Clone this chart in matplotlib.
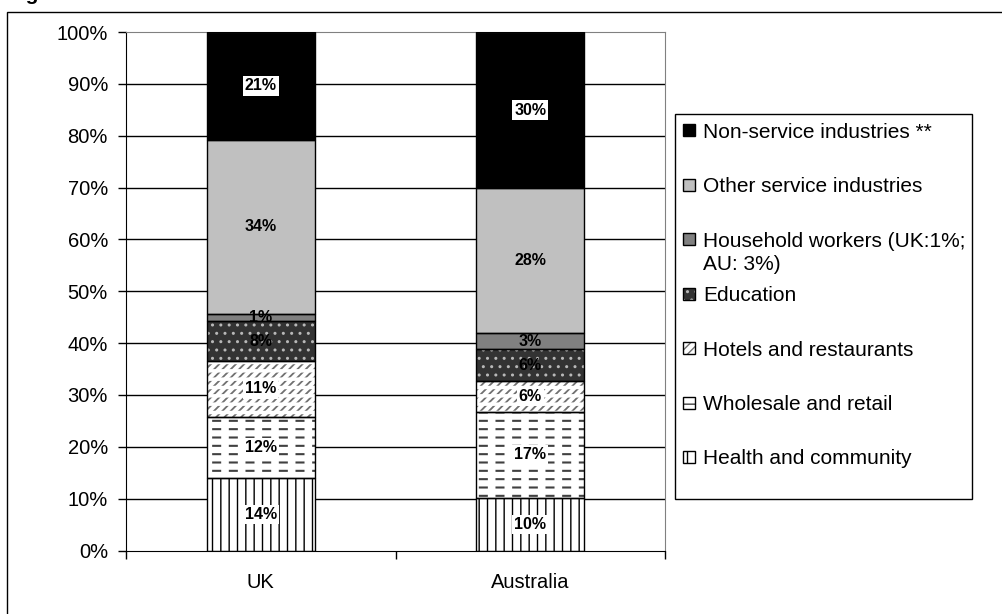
import numpy as np
import matplotlib
matplotlib.use("Agg")
import matplotlib.pyplot as plt
from matplotlib.patches import Rectangle

plt.rcParams['font.family'] = ['Liberation Sans', 'DejaVu Sans']
plt.rcParams['hatch.linewidth'] = 1.0

# employment shares (%) by industry, bottom of the stack first
countries = ["UK", "Australia"]
industries = ["Health and community", "Wholesale and retail", "Hotels and restaurants",
              "Education", "Household workers (UK:1%;\nAU: 3%)",
              "Other service industries", "Non-service industries **"]
uk_share = [13.9, 11.9, 10.7, 7.8, 1.3, 33.6, 20.8]
au_share = [10.1, 16.7, 5.8, 6.3, 3.0, 28.0, 30.1]

# fill, hatch, hatch colour and hatch width for each industry
face = ['white', 'white', 'white', '#333333', '#808080', '#c0c0c0', 'black']
hatches = ['||', '--', '////', '..', None, None, None]
hatch_col = ['black', '#404040', '#707070', '#b8b8b8', '#808080', '#c0c0c0', 'black']
hatch_lw = [1.0, 1.5, 1.3, 1.0, 1.0, 1.0, 1.0]
# thick white hatch laid over a pattern to break its lines into dashes
breaks = [None, '|', '--', None, None, None, None]
boxed = [True, True, True, False, False, False, True]

W, H = 1003, 614
fig = plt.figure(figsize=(W / 100, H / 100), dpi=100)

def px(x, y):
    return x / W, 1 - y / H

ax = fig.add_axes([126 / W, 1 - 550.5 / H, (665 - 126) / W, (550.5 - 32) / H])

x = np.arange(len(countries))
shares = np.array([uk_share, au_share])
bottom = np.zeros(len(countries))
for i, name in enumerate(industries):
    vals = shares[:, i]
    with plt.rc_context({'hatch.linewidth': hatch_lw[i]}):
        ax.bar(x, vals, 0.4, bottom=bottom, color=face[i], hatch=hatches[i],
               edgecolor=hatch_col[i], linewidth=0, zorder=2)
    if breaks[i]:
        with plt.rc_context({'hatch.linewidth': 5.5 if breaks[i] == '|' else 2.5}):
            ax.bar(x, vals, 0.4, bottom=bottom, fill=False, hatch=breaks[i],
                   edgecolor='white', linewidth=0, zorder=2.5)
    ax.bar(x, vals, 0.4, bottom=bottom, fill=False, edgecolor='black',
           linewidth=1, zorder=3)
    for xi, v, b in zip(x, vals, bottom):
        box = dict(facecolor='white', edgecolor='none', pad=1.5) if boxed[i] else None
        ax.text(xi, b + v / 2, f"{v:.0f}%", ha='center', va='center',
                fontsize=11.5, fontweight='bold', zorder=5, bbox=box)
    bottom += vals

ax.set_xlim(-0.5, 1.5)
ax.set_ylim(0, 100)
ax.set_yticks(np.arange(0, 101, 10))
ax.yaxis.set_major_formatter(lambda v, p: f"{v:.0f}%")
ax.set_xticks(x)
ax.set_xticklabels(countries)
ax.set_xticks([-0.5, 0.5, 1.5], minor=True)
ax.tick_params(axis='x', which='major', length=0, pad=16, labelsize=14.5)
ax.tick_params(axis='x', which='minor', length=6, width=1, direction='out')
ax.tick_params(axis='y', length=6, width=1, pad=7, labelsize=14.5)
for yv in range(10, 100, 10):
    ax.axhline(yv, color='black', lw=1, zorder=1)
for side in ['top', 'right']:
    ax.spines[side].set_color('#808080')
for side in ['left', 'bottom']:
    ax.spines[side].set_color('black')

# legend box, drawn by hand so entries sit on an even pitch
fig.add_artist(Rectangle(px(675, 499), (972 - 675) / W, (499 - 114) / H,
                         transform=fig.transFigure, fill=False, edgecolor='black', lw=1))
for k, i in enumerate(reversed(range(len(industries)))):
    yc = 130 + 54.5 * k
    fig.add_artist(Rectangle(px(683, yc + 6), 12 / W, 12 / H, transform=fig.transFigure,
                             facecolor=face[i], hatch=hatches[i], edgecolor=hatch_col[i], lw=0))
    fig.add_artist(Rectangle(px(683, yc + 6), 12 / W, 12 / H, transform=fig.transFigure,
                             fill=False, edgecolor='black', lw=1))
    for j, line in enumerate(industries[i].split('\n')):
        fig.text(*px(703, yc + 7.5 + 24 * j), line, va='baseline', ha='left', fontsize=15)

# outer frame and the caption running off the top
fig.add_artist(Rectangle(px(7, 700), 2, (700 - 12) / H, transform=fig.transFigure,
                         fill=False, edgecolor='black', lw=1))
fig.text(*px(8, 0), "Figure", va='baseline', fontsize=15, fontweight='bold')

fig.savefig("out.png", dpi=100)
